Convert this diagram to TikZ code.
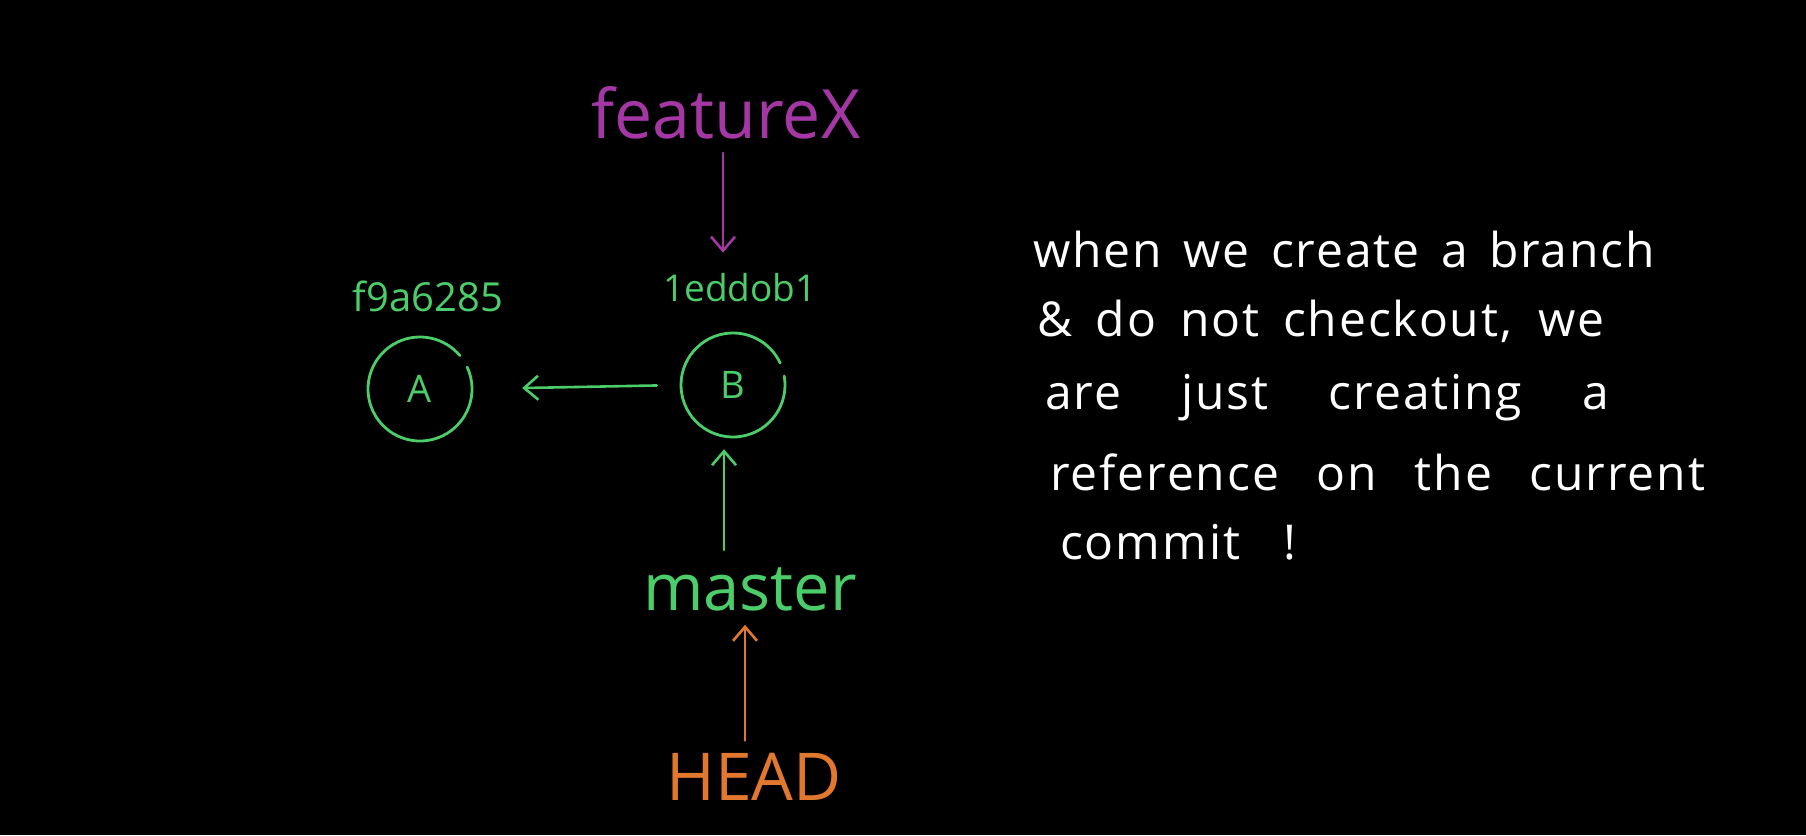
\documentclass[tikz,border=0pt]{standalone}
\usepackage{fontspec}
\setmainfont{Open Sans}
\newfontfamily\notefont[LetterSpace=4]{Open Sans}
\usetikzlibrary{arrows.meta}
\definecolor{pgreen}{RGB}{75,205,105}
\definecolor{ppurple}{RGB}{165,55,165}
\definecolor{porange}{RGB}{225,120,45}
\tikzset{
  arr/.style={line width=2.6pt,line cap=round,-{Straight Barb[length=14pt,width=24pt,line width=2.6pt]}},
  lbl/.style={inner sep=0pt,anchor=base},
  commit/.style={circle,minimum size=104pt,inner sep=0pt,text=pgreen,font=\fontsize{38}{40}\selectfont},
  ring/.style={line width=2.8pt,pgreen,line cap=round},
  note/.style={inner sep=0pt,anchor=base west,text=white,font=\notefont\fontsize{48}{52}\selectfont}
}
\begin{document}
\begin{tikzpicture}[x=1pt,y=-1pt]
\fill[black] (0,0) rectangle (1806,835);
\useasboundingbox (0,0) rectangle (1806,835);
% labels
\node[lbl,text=ppurple,font=\fontsize{68}{70}\selectfont] (fx) at (726,138) {featureX};
\node[lbl,text=pgreen,font=\fontsize{40}{42}\selectfont] (ha) at (428,311) {f9a6285};
\node[lbl,text=pgreen,font=\fontsize{37}{40}\selectfont] (hb) at (740,301) {1eddob1};
\node[commit] (A) at (420,389) {A};
\node[commit] (B) at (733,385) {B};
\node[lbl,text=pgreen,font=\fontsize{65}{68}\selectfont] (m) at (750,610) {master};
\node[lbl,text=porange,font=\fontsize{66}{68}\selectfont] (h) at (754,800) {HEAD};
% rings
\draw[ring] (A.center) ++(-25:52) arc[start angle=-25,end angle=320,radius=52];
\draw[ring] (B.center) ++(-10:52) arc[start angle=-10,end angle=335,radius=52];
% connectors
\draw[arr,pgreen,shorten <=24pt,shorten >=50pt] (B.west) -- (A.east);
\draw[arr,ppurple,shorten <=14pt,shorten >=20pt] ([xshift=-3pt]fx.south) -- ([xshift=-3pt]fx.south |- hb.north);
\draw[arr,pgreen,shorten <=17pt,shorten >=12pt] ([xshift=-26pt]m.north) -- ([xshift=-26pt]m.north |- B.south);
\draw[arr,porange,shorten <=12pt,shorten >=14pt] ([xshift=-9pt]h.north) -- ([xshift=-9pt]h.north |- m.south);
% note
\node[note] (l1) at (1033,267) {\makebox[622pt][s]{when we create a branch}};
\node[note] (l2) at (1037,336) {\makebox[567pt][s]{\& do not checkout, we}};
\node[note] (l3) at (1045,409) {\makebox[564pt][s]{are just creating a}};
\node[note] (l4) at (1050,490) {\makebox[655pt][s]{reference on the current}};
\node[note] (l5) at (1060,559) {\makebox[236pt][s]{commit !}};
\end{tikzpicture}
\end{document}
